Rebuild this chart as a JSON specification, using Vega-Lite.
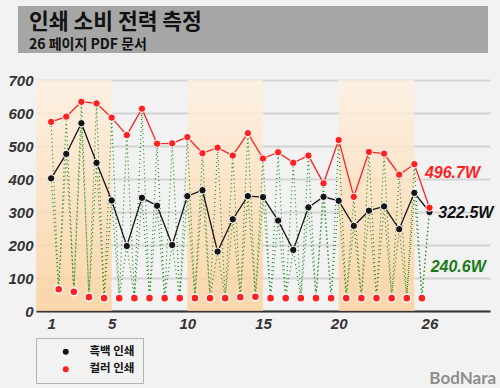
{
  "$schema": "https://vega.github.io/schema/vega-lite/v6.json",
  "width": 454,
  "height": 231,
  "autosize": {"type": "none"},
  "padding": {"left": 36, "top": 80, "right": 10, "bottom": 77},
  "background": "#f2f2f2",
  "config": {
    "view": {"stroke": null},
    "font": "Liberation Sans",
    "axisY": {"tickCount": 8, "labelOverlap": false, "grid": true, "gridColor": "#d4d4d4", "gridWidth": 2, "ticks": false, "domain": false, "labelPadding": 3, "labelFont": "Liberation Sans", "labelFontSize": 15, "labelFontStyle": "italic", "labelFontWeight": "bold", "labelColor": "#333333", "title": null},
    "axisX": {"labelOverlap": false, "grid": false, "ticks": false, "domain": true, "domainColor": "#333333", "domainWidth": 2, "labelPadding": 5, "labelFont": "Liberation Sans", "labelFontSize": 15, "labelFontStyle": "italic", "labelFontWeight": "bold", "labelColor": "#333333", "title": null}
  },
  "datasets": {
    "bands": [{"start": 0, "end": 5}, {"start": 10, "end": 15}, {"start": 20, "end": 25}],
    "power": [
      {"page": 1, "series": "흑백 인쇄", "watts": 402}, {"page": 2, "series": "흑백 인쇄", "watts": 476},
      {"page": 3, "series": "흑백 인쇄", "watts": 569}, {"page": 4, "series": "흑백 인쇄", "watts": 449},
      {"page": 5, "series": "흑백 인쇄", "watts": 335}, {"page": 6, "series": "흑백 인쇄", "watts": 197},
      {"page": 7, "series": "흑백 인쇄", "watts": 343}, {"page": 8, "series": "흑백 인쇄", "watts": 319},
      {"page": 9, "series": "흑백 인쇄", "watts": 200}, {"page": 10, "series": "흑백 인쇄", "watts": 348},
      {"page": 11, "series": "흑백 인쇄", "watts": 366}, {"page": 12, "series": "흑백 인쇄", "watts": 180},
      {"page": 13, "series": "흑백 인쇄", "watts": 278}, {"page": 14, "series": "흑백 인쇄", "watts": 348},
      {"page": 15, "series": "흑백 인쇄", "watts": 345}, {"page": 16, "series": "흑백 인쇄", "watts": 274},
      {"page": 17, "series": "흑백 인쇄", "watts": 185}, {"page": 18, "series": "흑백 인쇄", "watts": 314},
      {"page": 19, "series": "흑백 인쇄", "watts": 346}, {"page": 20, "series": "흑백 인쇄", "watts": 334},
      {"page": 21, "series": "흑백 인쇄", "watts": 258}, {"page": 22, "series": "흑백 인쇄", "watts": 304},
      {"page": 23, "series": "흑백 인쇄", "watts": 317}, {"page": 24, "series": "흑백 인쇄", "watts": 248},
      {"page": 25, "series": "흑백 인쇄", "watts": 358}, {"page": 26, "series": "흑백 인쇄", "watts": 300},
      {"page": 1, "series": "컬러 인쇄", "watts": 573}, {"page": 2, "series": "컬러 인쇄", "watts": 589},
      {"page": 3, "series": "컬러 인쇄", "watts": 634}, {"page": 4, "series": "컬러 인쇄", "watts": 629},
      {"page": 5, "series": "컬러 인쇄", "watts": 586}, {"page": 6, "series": "컬러 인쇄", "watts": 533},
      {"page": 7, "series": "컬러 인쇄", "watts": 613}, {"page": 8, "series": "컬러 인쇄", "watts": 507},
      {"page": 9, "series": "컬러 인쇄", "watts": 508}, {"page": 10, "series": "컬러 인쇄", "watts": 527},
      {"page": 11, "series": "컬러 인쇄", "watts": 478}, {"page": 12, "series": "컬러 인쇄", "watts": 495},
      {"page": 13, "series": "컬러 인쇄", "watts": 471}, {"page": 14, "series": "컬러 인쇄", "watts": 539},
      {"page": 15, "series": "컬러 인쇄", "watts": 462}, {"page": 16, "series": "컬러 인쇄", "watts": 481},
      {"page": 17, "series": "컬러 인쇄", "watts": 449}, {"page": 18, "series": "컬러 인쇄", "watts": 471},
      {"page": 19, "series": "컬러 인쇄", "watts": 387}, {"page": 20, "series": "컬러 인쇄", "watts": 518},
      {"page": 21, "series": "컬러 인쇄", "watts": 346}, {"page": 22, "series": "컬러 인쇄", "watts": 482},
      {"page": 23, "series": "컬러 인쇄", "watts": 477}, {"page": 24, "series": "컬러 인쇄", "watts": 413},
      {"page": 25, "series": "컬러 인쇄", "watts": 445}, {"page": 26, "series": "컬러 인쇄", "watts": 313}
    ],
    "idle": [
      {"page": 1.5, "watts": 66}, {"page": 2.5, "watts": 58}, {"page": 3.5, "watts": 42}, {"page": 4.5, "watts": 39},
      {"page": 5.5, "watts": 39}, {"page": 6.5, "watts": 39}, {"page": 7.5, "watts": 39}, {"page": 8.5, "watts": 39},
      {"page": 9.5, "watts": 39}, {"page": 10.5, "watts": 39}, {"page": 11.5, "watts": 39}, {"page": 12.5, "watts": 39},
      {"page": 13.5, "watts": 42}, {"page": 14.5, "watts": 43}, {"page": 15.5, "watts": 39}, {"page": 16.5, "watts": 39},
      {"page": 17.5, "watts": 39}, {"page": 18.5, "watts": 39}, {"page": 19.5, "watts": 39}, {"page": 20.5, "watts": 39},
      {"page": 21.5, "watts": 39}, {"page": 22.5, "watts": 39}, {"page": 23.5, "watts": 39}, {"page": 24.5, "watts": 39},
      {"page": 25.5, "watts": 39}
    ],
    "trace": [
      {"path": "a", "page": 1, "watts": 573}, {"path": "a", "page": 1.5, "watts": 66}, {"path": "a", "page": 2, "watts": 589},
      {"path": "a", "page": 2.5, "watts": 58}, {"path": "a", "page": 3, "watts": 634}, {"path": "a", "page": 3.5, "watts": 42},
      {"path": "a", "page": 4, "watts": 629}, {"path": "a", "page": 4.5, "watts": 39}, {"path": "a", "page": 5, "watts": 586},
      {"path": "a", "page": 5.5, "watts": 39}, {"path": "a", "page": 6, "watts": 533}, {"path": "a", "page": 6.5, "watts": 39},
      {"path": "a", "page": 7, "watts": 613}, {"path": "a", "page": 7.5, "watts": 39}, {"path": "a", "page": 8, "watts": 507},
      {"path": "a", "page": 8.5, "watts": 39}, {"path": "a", "page": 9, "watts": 508}, {"path": "a", "page": 9.5, "watts": 39},
      {"path": "a", "page": 10, "watts": 527}, {"path": "a", "page": 10.5, "watts": 39}, {"path": "a", "page": 11, "watts": 478},
      {"path": "a", "page": 11.5, "watts": 39}, {"path": "a", "page": 12, "watts": 495}, {"path": "a", "page": 12.5, "watts": 39},
      {"path": "a", "page": 13, "watts": 471}, {"path": "a", "page": 13.5, "watts": 42}, {"path": "a", "page": 14, "watts": 539},
      {"path": "a", "page": 14.5, "watts": 43}, {"path": "a", "page": 15, "watts": 462}, {"path": "a", "page": 15.5, "watts": 39},
      {"path": "a", "page": 16, "watts": 481}, {"path": "a", "page": 16.5, "watts": 39}, {"path": "a", "page": 17, "watts": 449},
      {"path": "a", "page": 17.5, "watts": 39}, {"path": "a", "page": 18, "watts": 471}, {"path": "a", "page": 18.5, "watts": 39},
      {"path": "a", "page": 19, "watts": 387}, {"path": "a", "page": 19.5, "watts": 39}, {"path": "a", "page": 20, "watts": 518},
      {"path": "a", "page": 20.5, "watts": 39}, {"path": "a", "page": 21, "watts": 346}, {"path": "a", "page": 21.5, "watts": 39},
      {"path": "a", "page": 22, "watts": 482}, {"path": "a", "page": 22.5, "watts": 39}, {"path": "a", "page": 23, "watts": 477},
      {"path": "a", "page": 23.5, "watts": 39}, {"path": "a", "page": 24, "watts": 413}, {"path": "a", "page": 24.5, "watts": 39},
      {"path": "a", "page": 25, "watts": 445}, {"path": "a", "page": 25.5, "watts": 39}, {"path": "a", "page": 26, "watts": 313},
      {"path": "b", "page": 1, "watts": 402}, {"path": "b", "page": 1.5, "watts": 66}, {"path": "b", "page": 2, "watts": 476},
      {"path": "b", "page": 2.5, "watts": 58}, {"path": "b", "page": 3, "watts": 569}, {"path": "b", "page": 3.5, "watts": 42},
      {"path": "b", "page": 4, "watts": 449}, {"path": "b", "page": 4.5, "watts": 39}, {"path": "b", "page": 5, "watts": 335},
      {"path": "b", "page": 5.5, "watts": 39}, {"path": "b", "page": 6, "watts": 197}, {"path": "b", "page": 6.5, "watts": 39},
      {"path": "b", "page": 7, "watts": 343}, {"path": "b", "page": 7.5, "watts": 39}, {"path": "b", "page": 8, "watts": 319},
      {"path": "b", "page": 8.5, "watts": 39}, {"path": "b", "page": 9, "watts": 200}, {"path": "b", "page": 9.5, "watts": 39},
      {"path": "b", "page": 10, "watts": 348}, {"path": "b", "page": 10.5, "watts": 39}, {"path": "b", "page": 11, "watts": 366},
      {"path": "b", "page": 11.5, "watts": 39}, {"path": "b", "page": 12, "watts": 180}, {"path": "b", "page": 12.5, "watts": 39},
      {"path": "b", "page": 13, "watts": 278}, {"path": "b", "page": 13.5, "watts": 42}, {"path": "b", "page": 14, "watts": 348},
      {"path": "b", "page": 14.5, "watts": 43}, {"path": "b", "page": 15, "watts": 345}, {"path": "b", "page": 15.5, "watts": 39},
      {"path": "b", "page": 16, "watts": 274}, {"path": "b", "page": 16.5, "watts": 39}, {"path": "b", "page": 17, "watts": 185},
      {"path": "b", "page": 17.5, "watts": 39}, {"path": "b", "page": 18, "watts": 314}, {"path": "b", "page": 18.5, "watts": 39},
      {"path": "b", "page": 19, "watts": 346}, {"path": "b", "page": 19.5, "watts": 39}, {"path": "b", "page": 20, "watts": 334},
      {"path": "b", "page": 20.5, "watts": 39}, {"path": "b", "page": 21, "watts": 258}, {"path": "b", "page": 21.5, "watts": 39},
      {"path": "b", "page": 22, "watts": 304}, {"path": "b", "page": 22.5, "watts": 39}, {"path": "b", "page": 23, "watts": 317},
      {"path": "b", "page": 23.5, "watts": 39}, {"path": "b", "page": 24, "watts": 248}, {"path": "b", "page": 24.5, "watts": 39},
      {"path": "b", "page": 25, "watts": 358}, {"path": "b", "page": 25.5, "watts": 39}, {"path": "b", "page": 26, "watts": 300}
    ]
  },
  "layer": [
    {
      "data": {"name": "bands"},
      "mark": {"type": "rect", "opacity": 0.8, "fill": {"gradient": "linear", "x1": 0, "y1": 0, "x2": 0, "y2": 1, "stops": [{"offset": 0, "color": "#fff0e0"}, {"offset": 1, "color": "#fccf98"}]}},
      "encoding": {
        "x": {"field": "start", "type": "quantitative", "title": null, "scale": {"domain": [0, 30], "nice": false, "zero": false}, "axis": {"values": [1, 5, 10, 15, 20, 26]}},
        "x2": {"field": "end"}
      }
    },
    {
      "data": {"values": [{}]},
      "mark": {"type": "rect", "color": "#a6a6a6"},
      "encoding": {
        "x": {"datum": -1.189, "type": "quantitative", "title": null},
        "x2": {"datum": 29.868},
        "y": {"datum": 924.2, "type": "quantitative", "title": null, "scale": {"domain": [0, 700], "nice": false, "zero": true}, "axis": {"values": [0, 100, 200, 300, 400, 500, 600, 700]}},
        "y2": {"datum": 781.8}
      }
    },
    {
      "data": {"values": [{"text": "인쇄 소비 전력 측정"}]},
      "mark": {"type": "text", "align": "left", "baseline": "alphabetic", "font": "Noto Sans CJK KR", "fontSize": 21.5, "fontWeight": "bold", "color": "#111111"},
      "encoding": {
        "x": {"datum": -0.4626, "type": "quantitative", "title": null},
        "y": {"datum": 855, "type": "quantitative", "title": null},
        "text": {"field": "text"}
      }
    },
    {
      "data": {"values": [{"text": "26 페이지 PDF 문서"}]},
      "mark": {"type": "text", "align": "left", "baseline": "alphabetic", "font": "Noto Sans CJK KR", "fontSize": 14, "fontWeight": "bold", "color": "#111111"},
      "encoding": {
        "x": {"datum": -0.4626, "type": "quantitative", "title": null},
        "y": {"datum": 794.5, "type": "quantitative", "title": null},
        "text": {"field": "text"}
      }
    },
    {
      "data": {"name": "trace"},
      "mark": {"type": "line", "color": "#168a16", "strokeWidth": 1.2, "strokeDash": [1, 3]},
      "encoding": {
        "x": {"field": "page", "type": "quantitative", "title": null},
        "y": {"field": "watts", "type": "quantitative", "title": null},
        "detail": {"field": "path"}
      }
    },
    {
      "data": {"name": "power"},
      "mark": {"type": "line", "strokeWidth": 1.3},
      "encoding": {
        "x": {"field": "page", "type": "quantitative", "title": null},
        "y": {"field": "watts", "type": "quantitative", "title": null},
        "color": {"field": "series", "type": "nominal", "scale": {"domain": ["흑백 인쇄", "컬러 인쇄"], "range": ["#151515", "#ff2020"]},
          "legend": {"orient": "none", "legendX": 0, "legendY": 258, "title": null, "padding": 8, "strokeColor": "#b3b3b3", "fillColor": "#f2f2f2", "symbolOffset": 16, "labelOffset": 18, "labelFont": "Noto Sans CJK KR", "labelFontSize": 11.5, "labelFontWeight": "bold", "labelColor": "#111111", "symbolSize": 36, "symbolType": "circle", "symbolStrokeWidth": 0, "rowPadding": 4.5}}
      }
    },
    {
      "data": {"name": "power"},
      "mark": {"type": "point", "filled": true, "size": 55, "stroke": "#ffffff", "strokeWidth": 1, "opacity": 1},
      "encoding": {
        "x": {"field": "page", "type": "quantitative", "title": null},
        "y": {"field": "watts", "type": "quantitative", "title": null},
        "color": {"field": "series", "type": "nominal", "scale": {"domain": ["흑백 인쇄", "컬러 인쇄"], "range": ["#151515", "#ff2020"]},
          "legend": {"orient": "none", "legendX": 0, "legendY": 258, "title": null, "padding": 8, "strokeColor": "#b3b3b3", "fillColor": "#f2f2f2", "symbolOffset": 16, "labelOffset": 18, "labelFont": "Noto Sans CJK KR", "labelFontSize": 11.5, "labelFontWeight": "bold", "labelColor": "#111111", "symbolSize": 36, "symbolType": "circle", "symbolStrokeWidth": 0, "rowPadding": 4.5}}
      }
    },
    {
      "data": {"name": "idle"},
      "mark": {"type": "point", "filled": true, "size": 65, "color": "#ff1f1f", "stroke": "#ffffff", "strokeWidth": 1.5, "opacity": 1},
      "encoding": {
        "x": {"field": "page", "type": "quantitative", "title": null},
        "y": {"field": "watts", "type": "quantitative", "title": null}
      }
    },
    {
      "data": {"values": [{"label": "496.7W"}]},
      "mark": {"type": "text", "align": "left", "baseline": "alphabetic", "font": "Liberation Sans", "fontSize": 16, "fontStyle": "italic", "fontWeight": "bold", "color": "#ff1f1f"},
      "encoding": {
        "x": {"datum": 25.7, "type": "quantitative", "title": null},
        "y": {"datum": 402, "type": "quantitative", "title": null},
        "text": {"field": "label"}
      }
    },
    {
      "data": {"values": [{"label": "322.5W"}]},
      "mark": {"type": "text", "align": "left", "baseline": "alphabetic", "font": "Liberation Sans", "fontSize": 16, "fontStyle": "italic", "fontWeight": "bold", "color": "#111111"},
      "encoding": {
        "x": {"datum": 26.58, "type": "quantitative", "title": null},
        "y": {"datum": 281, "type": "quantitative", "title": null},
        "text": {"field": "label"}
      }
    },
    {
      "data": {"values": [{"label": "240.6W"}]},
      "mark": {"type": "text", "align": "left", "baseline": "alphabetic", "font": "Liberation Sans", "fontSize": 16, "fontStyle": "italic", "fontWeight": "bold", "color": "#1a7a1a"},
      "encoding": {
        "x": {"datum": 26.08, "type": "quantitative", "title": null},
        "y": {"datum": 119, "type": "quantitative", "title": null},
        "text": {"field": "label"}
      }
    },
    {
      "data": {"values": [{"label": "BodNara"}]},
      "mark": {"type": "text", "align": "right", "baseline": "alphabetic", "font": "Lato", "fontSize": 17, "fontWeight": "bold", "color": "#8e8e8e"},
      "encoding": {
        "x": {"datum": 30.4, "type": "quantitative", "title": null},
        "y": {"datum": -220, "type": "quantitative", "title": null},
        "text": {"field": "label"}
      }
    }
  ]
}
